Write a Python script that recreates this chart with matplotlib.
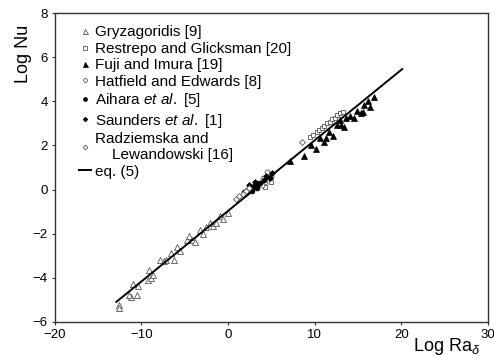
import matplotlib
matplotlib.use("Agg")
import matplotlib.pyplot as plt

plt.rcParams['font.family'] = ['Liberation Sans', 'DejaVu Sans']
plt.rcParams['mathtext.fontset'] = 'custom'
plt.rcParams['mathtext.rm'] = 'Liberation Sans'
plt.rcParams['mathtext.it'] = 'Liberation Sans:italic'

# Gryzagoridis [9]
gry_x = [-12.64, -12.64, -11.25, -11.4, -11.0, -10.55, -10.4, -9.3, -9.1, -8.95,
         -8.7, -7.86, -7.4, -7.2, -6.63, -6.3, -5.93, -5.55, -4.78, -4.47,
         -4.2, -3.85, -3.3, -2.94, -2.6, -2.1, -1.8, -1.35, -0.92, -0.6, 0.04]
gry_y = [-5.26, -5.38, -4.88, -4.8, -4.3, -4.77, -4.4, -4.12, -3.64, -4.0,
         -3.88, -3.21, -3.26, -3.18, -2.88, -3.18, -2.61, -2.8, -2.27, -2.12,
         -2.3, -2.38, -1.85, -2.0, -1.7, -1.52, -1.67, -1.52, -1.21, -1.36, -1.05]

# Restrepo and Glicksman [20]
res_x = [9.5, 9.85, 10.2, 10.5, 10.8, 11.1, 11.4, 11.7, 12.0, 12.3, 12.6, 12.9, 13.2,
         3.8, 4.2, 4.6, 5.0]
res_y = [2.38, 2.47, 2.62, 2.68, 2.80, 2.87, 3.01, 3.06, 3.20, 3.26, 3.39, 3.45, 3.52,
         0.25, 0.10, 0.55, 0.35]

# Fuji and Imura [19]
fuj_x = [7.09, 8.71, 9.56, 10.14, 10.56, 11.02, 11.3, 11.6, 12.1, 12.56, 12.87, 13.0,
         13.4, 13.64, 14.1, 14.49, 14.88, 15.3, 15.57, 15.64, 16.2, 16.33, 16.88]
fuj_y = [1.3, 1.51, 2.01, 1.86, 2.32, 2.16, 2.35, 2.62, 2.42, 2.92, 3.15, 2.95,
         2.85, 3.23, 3.33, 3.23, 3.57, 3.45, 3.53, 3.83, 4.03, 3.75, 4.21]

# Hatfield and Edwards [8]
hat_x = [3.2, 3.6, 4.0, 4.3, 4.7, 5.0, 4.5, 3.9]
hat_y = [0.1, 0.3, 0.5, 0.35, 0.7, 0.6, 0.8, 0.2]

# Aihara et al. [5]
aih_x = [1.8, 2.2, 2.6, 3.0, 3.3, 3.7, 4.1, 2.8]
aih_y = [-0.1, 0.0, 0.1, 0.15, 0.05, 0.3, 0.45, -0.05]

# Saunders et al. [1]
sau_x = [2.4, 3.1, 3.5, 4.4, 4.8, 5.1]
sau_y = [0.2, 0.35, 0.25, 0.6, 0.5, 0.75]

# Radziemska and Lewandowski [16]
rad_x = [0.9, 1.3, 1.7, 2.1, 2.4, 8.5]
rad_y = [-0.45, -0.3, -0.2, -0.05, 0.05, 2.16]

# eq. (5)
eq_x = [-12.9, 20.1]
eq_y = [-5.1, 5.47]

fig = plt.figure(figsize=(4.94, 3.58), dpi=100)
ax = fig.add_axes([0.111, 0.1014, 0.877, 0.8616])

gray = '#555555'
ax.plot(gry_x, gry_y, ls='none', marker='^', ms=4.5, mfc='white', mec=gray, mew=0.6,
        label='Gryzagoridis [9]')
ax.plot(res_x, res_y, ls='none', marker='s', ms=3.5, mfc='white', mec=gray, mew=0.6,
        label='Restrepo and Glicksman [20]')
ax.plot(fuj_x, fuj_y, ls='none', marker='^', ms=4.5, mfc='black', mec='black', mew=0.5,
        label='Fuji and Imura [19]')
ax.plot(hat_x, hat_y, ls='none', marker='o', ms=3.5, mfc='white', mec=gray, mew=0.6,
        label='Hatfield and Edwards [8]')
ax.plot(aih_x, aih_y, ls='none', marker='o', ms=3.5, mfc='black', mec='black', mew=0.5,
        label='Aihara $\\mathit{et\\ al.}$ [5]')
ax.plot(sau_x, sau_y, ls='none', marker='D', ms=3, mfc='black', mec='black', mew=0.5,
        label='Saunders $\\mathit{et\\ al.}$ [1]')
ax.plot(rad_x, rad_y, ls='none', marker='D', ms=3, mfc='white', mec=gray, mew=0.6,
        label='Radziemska and\n    Lewandowski [16]')
ax.plot(eq_x, eq_y, color='black', lw=1.4, label='eq. (5)')

ax.set_xlim(-20, 30)
ax.set_ylim(-6, 8)
ax.set_xticks([-20, -10, 0, 10, 20, 30])
ax.set_yticks([-6, -4, -2, 0, 2, 4, 6, 8])

for s in ax.spines.values():
    s.set_color('#333333')
    s.set_linewidth(1.0)
ax.tick_params(direction='out', length=2.5, width=0.8, color='#333333',
               labelsize=9.5, pad=2.5)

ax.set_xlabel('Log Ra$_\\delta$', fontsize=13)
ax.xaxis.set_label_coords(0.905, -0.045)
ax.set_ylabel('Log Nu', fontsize=13)
ax.yaxis.set_label_coords(-0.053, 0.869)

ax.legend(loc='upper left', frameon=False, fontsize=11, handlelength=0.8,
          handletextpad=0.3, labelspacing=0.16, borderaxespad=0.3,
          bbox_to_anchor=(0.03, 0.995), markerscale=0.8)

fig.savefig('out.png', dpi=100)
